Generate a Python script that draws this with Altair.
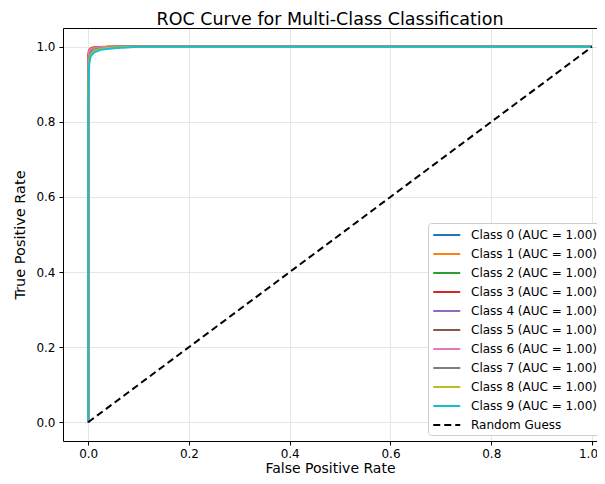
import altair as alt
import pandas as pd

classes = [f"Class {i} (AUC = 1.00)" for i in range(10)]
colors = ["#1f77b4", "#ff7f0e", "#2ca02c", "#d62728", "#9467bd",
          "#8c564b", "#e377c2", "#7f7f7f", "#bcbd22", "#17becf"]

fpr_0 = [0, 0, 0.001, 0.003, 0.008, 0.02, 0.05, 1.0]
tpr_0 = [0, 0.92, 0.975, 0.988, 0.995, 0.998, 1.0, 1.0]
fpr_1 = [0, 0, 0.001, 0.004, 0.01, 0.03, 1.0]
tpr_1 = [0, 0.96, 0.99, 0.996, 0.999, 1.0, 1.0]
fpr_2 = [0, 0, 0.001, 0.004, 0.01, 0.025, 0.06, 1.0]
tpr_2 = [0, 0.93, 0.98, 0.99, 0.995, 0.998, 1.0, 1.0]
fpr_3 = [0, 0, 0.001, 0.003, 0.009, 0.02, 0.045, 1.0]
tpr_3 = [0, 0.94, 0.982, 0.991, 0.996, 0.999, 1.0, 1.0]
fpr_4 = [0, 0, 0.001, 0.004, 0.01, 0.03, 0.06, 1.0]
tpr_4 = [0, 0.93, 0.978, 0.989, 0.995, 0.998, 1.0, 1.0]
fpr_5 = [0, 0, 0.001, 0.003, 0.008, 0.02, 0.04, 1.0]
tpr_5 = [0, 0.95, 0.985, 0.993, 0.997, 0.999, 1.0, 1.0]
fpr_6 = [0, 0, 0.001, 0.003, 0.009, 0.025, 0.05, 1.0]
tpr_6 = [0, 0.95, 0.984, 0.992, 0.996, 0.999, 1.0, 1.0]
fpr_7 = [0, 0, 0.002, 0.005, 0.012, 0.03, 0.07, 1.0]
tpr_7 = [0, 0.9, 0.97, 0.984, 0.992, 0.997, 1.0, 1.0]
fpr_8 = [0, 0, 0.002, 0.005, 0.012, 0.03, 0.07, 1.0]
tpr_8 = [0, 0.88, 0.965, 0.98, 0.99, 0.996, 1.0, 1.0]
fpr_9 = [0, 0, 0.002, 0.005, 0.012, 0.025, 0.05, 0.1, 1.0]
tpr_9 = [0, 0.85, 0.955, 0.975, 0.985, 0.992, 0.996, 1.0, 1.0]

fprs = [fpr_0, fpr_1, fpr_2, fpr_3, fpr_4, fpr_5, fpr_6, fpr_7, fpr_8, fpr_9]
tprs = [tpr_0, tpr_1, tpr_2, tpr_3, tpr_4, tpr_5, tpr_6, tpr_7, tpr_8, tpr_9]

guess_label = "Random Guess"
guess_x = [0, 1]
guess_y = [0, 1]

rows = []
for k, (name, fx, ty) in enumerate(zip(classes, fprs, tprs)):
    for i, (a, b) in enumerate(zip(fx, ty)):
        rows.append({"series": name, "fpr": a, "tpr": b, "idx": i})
for i, (a, b) in enumerate(zip(guess_x, guess_y)):
    rows.append({"series": guess_label, "fpr": a, "tpr": b, "idx": i})
df = pd.DataFrame(rows)

domain = classes + [guess_label]
ticks = [0.0, 0.2, 0.4, 0.6, 0.8, 1.0]
FONT = "DejaVu Sans"

xscale = alt.Scale(domain=[-0.05, 1.0099], nice=False, zero=False)
yscale = alt.Scale(domain=[-0.05, 1.05], nice=False, zero=False)

lines = alt.Chart(df).mark_line(strokeWidth=2, clip=True).encode(
    x=alt.X("fpr:Q", title="False Positive Rate", scale=xscale,
            axis=alt.Axis(values=ticks, format=".1f", labelPadding=3, titlePadding=2,
                          titleFontSize=14,
                          labelOffset=alt.expr("datum.value == 1 ? -4 : 0"))),
    y=alt.Y("tpr:Q", title="True Positive Rate", scale=yscale,
            axis=alt.Axis(values=ticks, format=".1f", titlePadding=8)),
    color=alt.Color("series:N", scale=alt.Scale(domain=domain, range=colors + ["black"]),
                    legend=alt.Legend(title=None)),
    strokeDash=alt.StrokeDash("series:N",
                              scale=alt.Scale(domain=domain, range=[[1, 0]] * 10 + [[7, 4]]),
                              legend=alt.Legend(title=None)),
    order=alt.Order("idx:Q"),
)

top_frame = alt.Chart(df).mark_point(opacity=0).encode(
    x=alt.X("fpr:Q", scale=xscale,
            axis=alt.Axis(orient="top", labels=False, ticks=False, grid=False,
                          title=None, domain=True, domainColor="black")),
    y=alt.Y("tpr:Q", scale=yscale),
)

chart = alt.layer(lines, top_frame).resolve_axis(x="independent").properties(
    width=534, height=413,
    title=alt.Title("ROC Curve for Multi-Class Classification", font=FONT,
                    fontSize=17.5, fontWeight="normal", color="black", offset=0),
    autosize=alt.AutoSizeParams(type="none"),
    padding={"left": 55, "top": 20, "right": 0, "bottom": 35},
).configure_view(
    stroke=None
).configure_axis(
    domain=True, domainColor="black", domainWidth=1,
    grid=True, gridColor="#e6e6e6", gridWidth=1,
    tickColor="black", tickSize=4, labelFont=FONT, labelFontSize=12,
    labelColor="black", titleFont=FONT, titleFontSize=14.5,
    titleFontWeight="normal", titleColor="black", labelPadding=4,
).configure_legend(
    orient="none", legendX=365, legendY=195, fillColor="white",
    strokeColor="#cccccc", cornerRadius=3, padding=4, rowPadding=5,
    labelFont=FONT, labelFontSize=12, labelColor="black", labelLimit=0,
    symbolType="M-1,0H3", symbolStrokeWidth=2, symbolSize=182, labelOffset=23,
)

chart.save("out.html", embed_options={"renderer": "svg", "actions": False})
